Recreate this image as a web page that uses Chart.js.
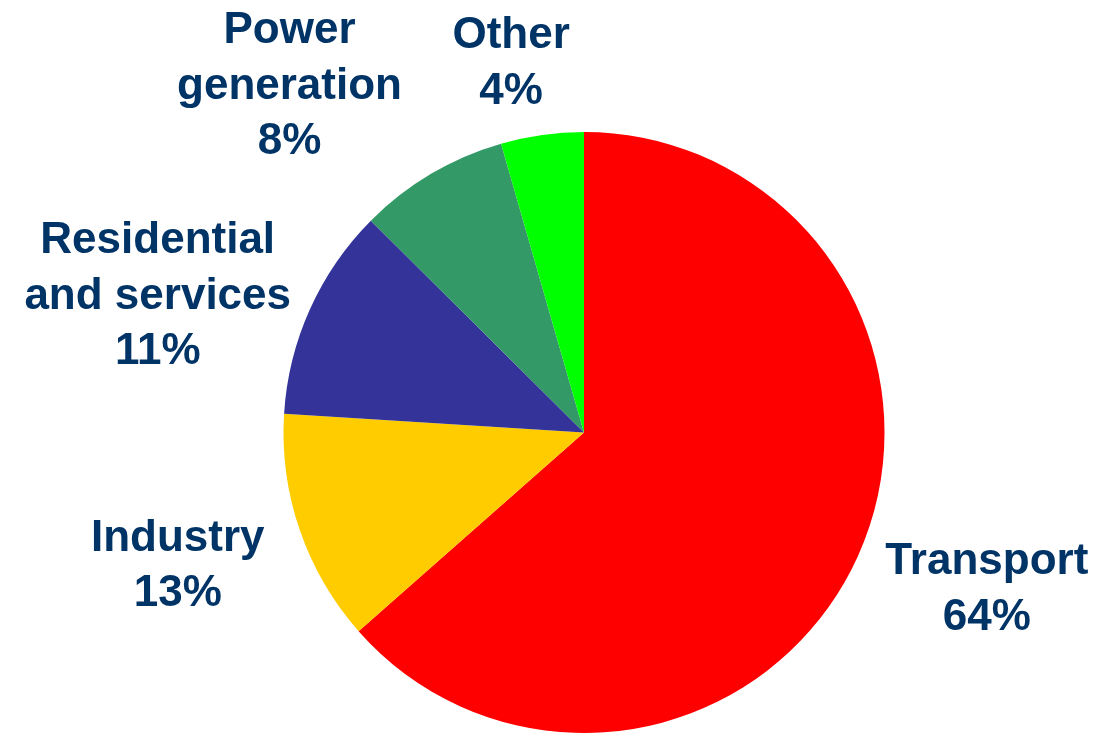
<!DOCTYPE html>
<html>
<head>
<meta charset="utf-8">
<script src="https://cdn.jsdelivr.net/npm/chart.js@4"></script>
<style>
  html, body { margin: 0; padding: 0; background: #ffffff; }
  #wrap { width: 1099px; height: 733px; position: relative; }
</style>
</head>
<body>
<div id="wrap"><canvas id="c"></canvas></div>
<script>
// ---- data ----
const categories = [["Transport"], ["Industry"], ["Residential", "and services"], ["Power", "generation"], ["Other"]];
const shares = [63.5, 12.5, 11.45, 8.1, 4.45];
const sliceColors = ["#FF0000", "#FFCC00", "#333399", "#339966", "#00FF00"];

// label anchors (centre x, first baseline) relative to pie centre, in units of radius
const labelAnchors = [
  [1.3405, 0.4718],
  [-1.352, 0.394],
  [-1.4186, -0.597],
  [-0.980, -1.2947],
  [-0.2425, -1.278]
];

const labelPlugin = {
  id: 'sliceLabels',
  afterDraw(chart) {
    const ctx = chart.ctx;
    const meta = chart.getDatasetMeta(0);
    const arc0 = meta.data[0];
    if (!arc0) return;
    const cx = arc0.x, cy = arc0.y, r = arc0.outerRadius;
    const total = shares.reduce((a, b) => a + b, 0);
    ctx.save();
    ctx.fillStyle = "#003366";
    ctx.font = "bold 44px 'Liberation Sans', Arial, sans-serif";
    ctx.textAlign = "center";
    ctx.textBaseline = "alphabetic";
    const lh = 55.5;
    categories.forEach((lines, i) => {
      const pct = Math.round(shares[i] / total * 100 + 1e-6) + "%";
      const all = lines.concat([pct]);
      const x = cx + labelAnchors[i][0] * r;
      const y = cy + labelAnchors[i][1] * r;
      all.forEach((t, k) => ctx.fillText(t, x, y + k * lh));
    });
    ctx.restore();
  }
};

new Chart(document.getElementById('c'), {
  type: 'pie',
  data: {
    labels: categories.map(l => l.join(' ')),
    datasets: [{
      data: shares,
      backgroundColor: sliceColors,
      borderWidth: 0
    }]
  },
  options: {
    responsive: true,
    maintainAspectRatio: false,
    animation: false,
    layout: { padding: { top: 132, bottom: 0, left: 169, right: 100 } },
    plugins: {
      legend: { display: false },
      tooltip: { enabled: false }
    }
  },
  plugins: [labelPlugin]
});
</script>
</body>
</html>
